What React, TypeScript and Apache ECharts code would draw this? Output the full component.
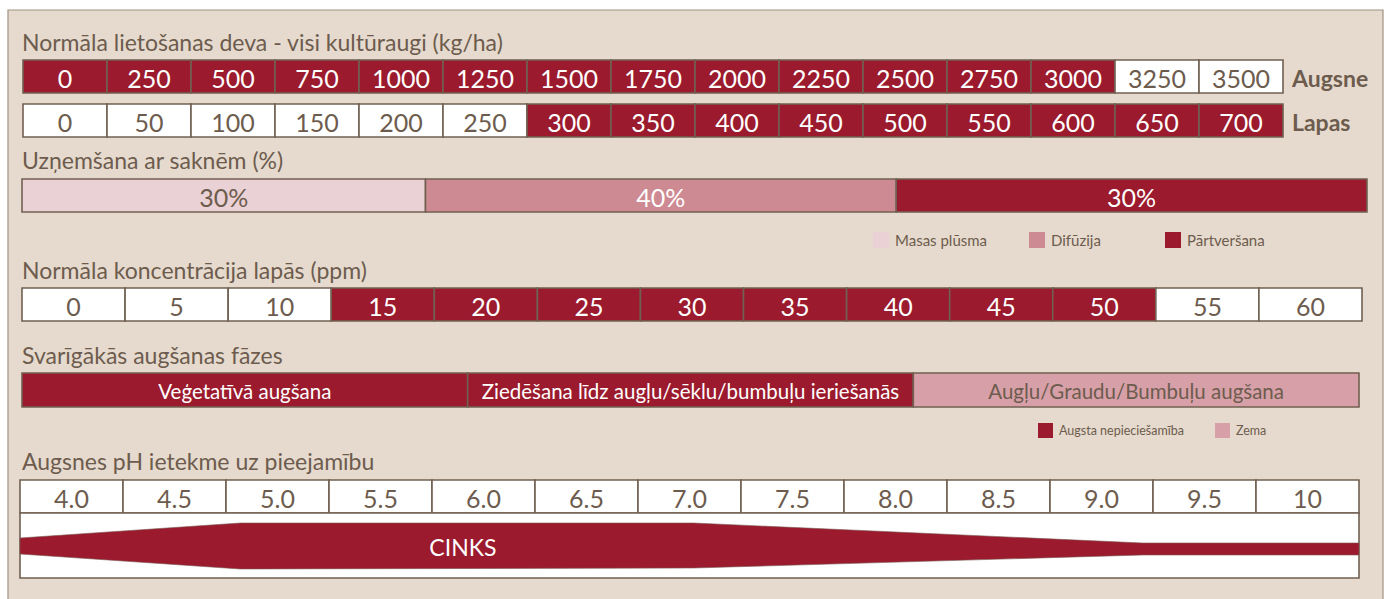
import React, { useEffect, useRef } from "react";
import * as echarts from "echarts";

// ---------- data ----------
const augsneLabels = ["0", "250", "500", "750", "1000", "1250", "1500", "1750", "2000", "2250", "2500", "2750", "3000", "3250", "3500"];
const augsneHigh = [1, 1, 1, 1, 1, 1, 1, 1, 1, 1, 1, 1, 1, 0, 0];
const lapasLabels = ["0", "50", "100", "150", "200", "250", "300", "350", "400", "450", "500", "550", "600", "650", "700"];
const lapasHigh = [0, 0, 0, 0, 0, 0, 1, 1, 1, 1, 1, 1, 1, 1, 1];

const uptakeNames = ["Masas plūsma", "Difūzija", "Pārtveršana"];
const uptakeValues = [30, 40, 30];
const uptakeSpans = [30, 35, 35];

const ppmLabels = ["0", "5", "10", "15", "20", "25", "30", "35", "40", "45", "50", "55", "60"];
const ppmHigh = [0, 0, 0, 1, 1, 1, 1, 1, 1, 1, 1, 0, 0];

const phaseLabels = ["Veģetatīvā augšana", "Ziedēšana līdz augļu/sēklu/bumbuļu ieriešanās", "Augļu/Graudu/Bumbuļu augšana"];
const phaseHigh = [1, 1, 0];

const phLabels = ["4.0", "4.5", "5.0", "5.5", "6.0", "6.5", "7.0", "7.5", "8.0", "8.5", "9.0", "9.5", "10"];
const zincPH = [3.75, 4.82, 7.02, 9.2, 10.25];
const zincTop = [40, 55, 55, 35, 35];
const zincBottom = [24, 9, 10, 23, 23];
const zincName = "CINKS";
const zincLabelPH = 5.9;

// ---------- styles ----------
const DARK = "#9b1a2d";
const MID = "#cd8a92";
const LIGHT = "#ead1d5";
const LOWPINK = "#d7a0a8";
const WHITE = "#ffffff";
const BORDER = "#716052";
const TEXT = "#6d5c4e";
const PANEL = "#e5dacd";
const FONT = "Lato";

function cellsSeries(idx: number, labels: string[], starts: number[], ends: number[], fills: string[], textFills: string[], fontSize: number) {
  return {
    type: "custom",
    xAxisIndex: idx,
    yAxisIndex: idx,
    clip: false,
    data: labels.map((_, i) => [starts[i], ends[i]]),
    encode: { x: [0, 1] },
    renderItem: (params: any, api: any) => {
      const i = params.dataIndex;
      const p0 = api.coord([starts[i], 1]);
      const p1 = api.coord([ends[i], 0]);
      return {
        type: "group",
        children: [
          {
            type: "rect",
            shape: { x: p0[0], y: p0[1], width: p1[0] - p0[0], height: p1[1] - p0[1] },
            style: { fill: fills[i], stroke: BORDER, lineWidth: 1.6 },
          },
          {
            type: "text",
            style: {
              text: labels[i],
              x: (p0[0] + p1[0]) / 2,
              y: (p0[1] + p1[1]) / 2 + 1,
              align: "center",
              verticalAlign: "middle",
              fill: textFills[i],
              fontSize,
              fontFamily: FONT,
            },
          },
        ],
      };
    },
  };
}

function uniform(n: number) {
  return { s: Array.from({ length: n }, (_, i) => i), e: Array.from({ length: n }, (_, i) => i + 1) };
}
function cumulative(spans: number[]) {
  const s: number[] = [];
  const e: number[] = [];
  let acc = 0;
  spans.forEach((v) => {
    s.push(acc);
    acc += v;
    e.push(acc);
  });
  return { s, e };
}

const grids = [
  { left: 23, top: 60, width: 1260, height: 33 },
  { left: 23, top: 104, width: 1260, height: 33 },
  { left: 22, top: 179, width: 1345, height: 33 },
  { left: 22, top: 288, width: 1340, height: 33 },
  { left: 22, top: 373, width: 1337, height: 34 },
  { left: 20, top: 480, width: 1339, height: 33 },
  { left: 20, top: 513, width: 1339, height: 65 },
];

export default function App() {
  const ref = useRef<HTMLDivElement>(null);
  useEffect(() => {
    if (!ref.current) return;
    const chart = echarts.init(ref.current, undefined, { renderer: "svg" });

    const uA = uniform(augsneLabels.length);
    const uL = uniform(lapasLabels.length);
    const uP = uniform(ppmLabels.length);
    const uPH = uniform(phLabels.length);
    const cU = cumulative(uptakeSpans);
    const cPh = cumulative(phaseLabels.map(() => 1));
    const uptakeFills = [LIGHT, MID, DARK];
    const uptakeText = [TEXT, WHITE, WHITE];

    const xAxes = [
      { min: 0, max: augsneLabels.length },
      { min: 0, max: lapasLabels.length },
      { min: 0, max: cU.e[cU.e.length - 1] },
      { min: 0, max: ppmLabels.length },
      { min: 0, max: phaseLabels.length },
      { min: 0, max: phLabels.length },
      { min: 3.75, max: 10.25 },
    ].map((a, i) => ({ type: "value", gridIndex: i, show: false, ...a }));
    const yAxes = grids.map((_, i) => ({ type: "value", gridIndex: i, show: false, min: 0, max: i === 6 ? 65 : 1 }));

    const titleStyle = (text: string, y: number) => ({
      type: "text",
      x: 22,
      y,
      z: 10,
      style: { text, fill: TEXT, fontSize: 23, fontFamily: FONT, verticalAlign: "middle" },
    });
    const legendItem = (x: number, y: number, color: string, text: string, size: number, fs: number) => [
      { type: "rect", shape: { x, y, width: size, height: size }, style: { fill: color }, z: 10 },
      {
        type: "text",
        x: x + size + 6,
        y: y + size / 2,
        z: 10,
        style: { text, fill: TEXT, fontSize: fs, fontFamily: FONT, verticalAlign: "middle" },
      },
    ];

    chart.setOption({
      animation: false,
      backgroundColor: "#ffffff",
      grid: grids.map((g) => ({ ...g, containLabel: false })),
      xAxis: xAxes,
      yAxis: yAxes,
      graphic: [
        { type: "rect", z: -10, shape: { x: 8, y: 10, width: 1375, height: 620 }, style: { fill: PANEL, stroke: "#a09284", lineWidth: 1.2 } },
        titleStyle("Normāla lietošanas deva - visi kultūraugi (kg/ha)", 42),
        titleStyle("Uzņemšana ar saknēm (%)", 160),
        titleStyle("Normāla koncentrācija lapās (ppm)", 270),
        titleStyle("Svarīgākās augšanas fāzes", 355),
        titleStyle("Augsnes pH ietekme uz pieejamību", 461),
        { type: "text", x: 1292, y: 78, z: 10, style: { text: "Augsne", fill: TEXT, fontSize: 23, fontWeight: "bold", fontFamily: FONT, verticalAlign: "middle" } },
        { type: "text", x: 1292, y: 122, z: 10, style: { text: "Lapas", fill: TEXT, fontSize: 23, fontWeight: "bold", fontFamily: FONT, verticalAlign: "middle" } },
        ...legendItem(873, 232, LIGHT, uptakeNames[0], 16, 15),
        ...legendItem(1029, 232, MID, uptakeNames[1], 16, 15),
        ...legendItem(1165, 232, DARK, uptakeNames[2], 16, 15),
        ...legendItem(1038, 423, DARK, "Augsta nepieciešamība", 15, 12.5),
        ...legendItem(1215, 423, LOWPINK, "Zema", 15, 12.5),
      ],
      series: [
        cellsSeries(0, augsneLabels, uA.s, uA.e, augsneHigh.map((h) => (h ? DARK : WHITE)), augsneHigh.map((h) => (h ? WHITE : TEXT)), 25),
        cellsSeries(1, lapasLabels, uL.s, uL.e, lapasHigh.map((h) => (h ? DARK : WHITE)), lapasHigh.map((h) => (h ? WHITE : TEXT)), 25),
        cellsSeries(2, uptakeValues.map((v) => v + "%"), cU.s, cU.e, uptakeFills, uptakeText, 25),
        cellsSeries(3, ppmLabels, uP.s, uP.e, ppmHigh.map((h) => (h ? DARK : WHITE)), ppmHigh.map((h) => (h ? WHITE : TEXT)), 25),
        cellsSeries(4, phaseLabels, cPh.s, cPh.e, phaseHigh.map((h) => (h ? DARK : LOWPINK)), phaseHigh.map((h) => (h ? WHITE : TEXT)), 20.5),
        cellsSeries(5, phLabels, uPH.s, uPH.e, phLabels.map(() => WHITE), phLabels.map(() => TEXT), 25),
        {
          type: "custom",
          name: zincName,
          xAxisIndex: 6,
          yAxisIndex: 6,
          clip: false,
          data: [[zincPH[0], zincPH[zincPH.length - 1]]],
          encode: { x: [0, 1] },
          renderItem: (params: any, api: any) => {
            const cs = params.coordSys;
            const pts: number[][] = [];
            zincPH.forEach((x, i) => pts.push(api.coord([x, zincTop[i]])));
            for (let i = zincPH.length - 1; i >= 0; i--) pts.push(api.coord([zincPH[i], zincBottom[i]]));
            const lp = api.coord([zincLabelPH, 32.5]);
            return {
              type: "group",
              children: [
                { type: "rect", shape: { x: cs.x, y: cs.y, width: cs.width, height: cs.height }, style: { fill: WHITE, stroke: BORDER, lineWidth: 1.6 } },
                { type: "polygon", shape: { points: pts }, style: { fill: DARK, stroke: "#7a5a55", lineWidth: 0.6 } },
                {
                  type: "text",
                  style: { text: zincName, x: lp[0], y: lp[1] + 1, align: "center", verticalAlign: "middle", fill: WHITE, fontSize: 23, fontFamily: FONT },
                },
              ],
            };
          },
        },
      ],
    });
    return () => chart.dispose();
  }, []);
  return <div ref={ref} style={{ position: "absolute", left: 0, top: 0, width: 1399, height: 599 }} />;
}
